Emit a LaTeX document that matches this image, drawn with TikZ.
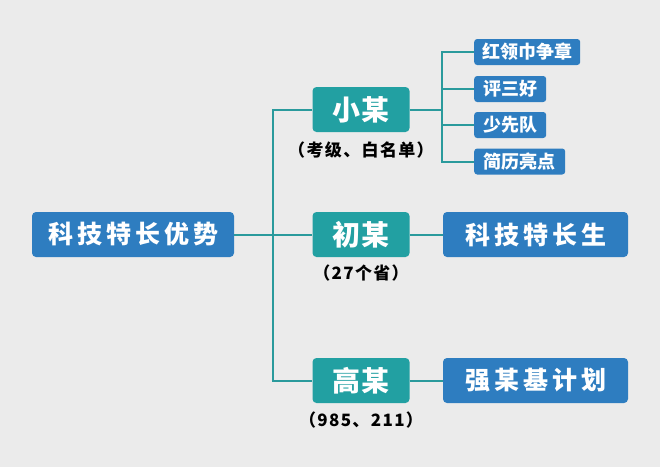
\documentclass[tikz,border=0pt]{standalone}
\usepackage{fontspec}
\usepackage{xcolor}
\newfontfamily\cjk[BoldFont={Noto Sans CJK SC Black}]{Noto Sans CJK SC}
\definecolor{bgGray}{HTML}{EBEBEB}
\definecolor{boxBlue}{HTML}{2E7DC0}
\definecolor{boxTeal}{HTML}{22A0A2}
\definecolor{lineTeal}{HTML}{2A9A9C}

\begin{document}
\begin{tikzpicture}[
  x=1pt, y=-1pt,
  link/.style={draw=lineTeal,line width=2pt},
  rootbox/.style={rectangle,rounded corners=4pt,fill=boxBlue,text=white,minimum width=202pt,minimum height=45pt,font=\cjk\bfseries\fontsize{25}{25}\selectfont\addfontfeature{LetterSpace=16}},
  stagebox/.style={rectangle,rounded corners=4pt,fill=boxTeal,text=white,minimum width=97pt,minimum height=45pt,font=\cjk\bfseries\fontsize{28}{28}\selectfont\addfontfeature{LetterSpace=7}},
  planbox/.style={rectangle,rounded corners=4pt,fill=boxBlue,text=white,minimum width=185pt,minimum height=45pt,font=\cjk\bfseries\fontsize{25}{25}\selectfont\addfontfeature{LetterSpace=16}},
  itembox/.style={rectangle,rounded corners=3pt,fill=boxBlue,text=white,anchor=west,minimum height=26pt,font=\cjk\bfseries\fontsize{18}{18}\selectfont},
  note/.style={text=black,font=\cjk\bfseries\fontsize{17}{17}\selectfont\addfontfeature{LetterSpace=8}}
]
  \fill[bgGray] (0,0) rectangle (660,467);
  \useasboundingbox (0,0) rectangle (660,467);
  \node[rootbox] (root) at (133,234.5) {科技特长优势};
  \node[stagebox] (xiao) at (361,109.5) {小某};
  \node[stagebox] (chu) at (361,234.5) {初某};
  \node[stagebox] (gao) at (361,380.5) {高某};
  \node[note] (xiaoNote) at (361,150) {（考级、白名单）};
  \node[note] (chuNote) at (361,273) {（27个省）};
  \node[note] (gaoNote) at (361,420) {（985、211）};
  \node[planbox] (kjtc) at (535.5,234.5) {科技特长生};
  \node[planbox] (qjj) at (535.5,380.5) {强某基计划};
  \node[itembox,minimum width=106pt] (i1) at (474,52) {红领巾争章};
  \node[itembox,minimum width=72pt] (i2) at (474,89) {评三好};
  \node[itembox,minimum width=72pt] (i3) at (474,125) {少先队};
  \node[itembox,minimum width=91pt] (i4) at (474,161.5) {简历亮点};
  \coordinate (spine) at (273,234.5);
  \coordinate (fork) at (442,109.5);
  \draw[link] (root) -- (chu);
  \draw[link] (xiao.west) -| (spine) |- (gao.west);
  \draw[link] (chu) -- (kjtc);
  \draw[link] (gao) -- (qjj);
  \draw[link] (xiao) -- (fork);
  \foreach \i in {i1,i2,i3,i4}
    \draw[link] (fork) |- (\i.west);
\end{tikzpicture}
\end{document}
